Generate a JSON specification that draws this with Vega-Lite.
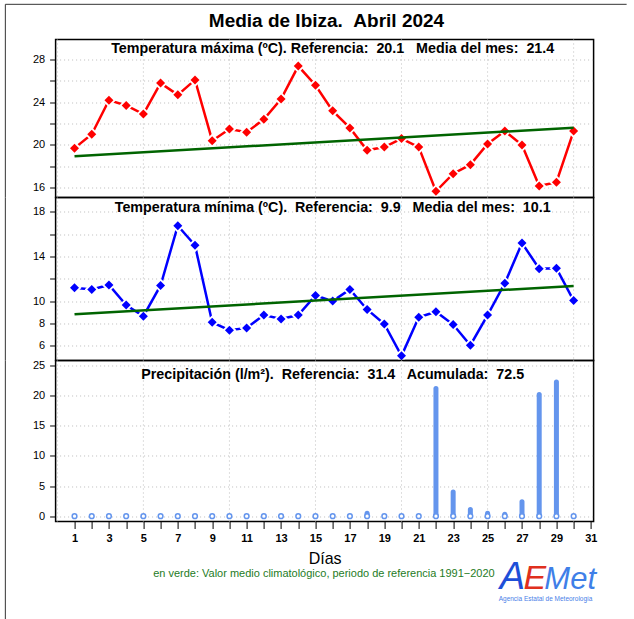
{
  "$schema": "https://vega.github.io/schema/vega-lite/v6.json",
  "background": "white",
  "padding": {"left": 3.6, "top": 2.5, "right": 5, "bottom": 0},
  "spacing": 0,
  "bounds": "flush",
  "datasets": {
    "dias": [
      {"dia": 1, "tmax": 19.7, "tmin": 11.2, "prec": 0},
      {"dia": 2, "tmax": 21.0, "tmin": 11.05, "prec": 0},
      {"dia": 3, "tmax": 24.2, "tmin": 11.45, "prec": 0},
      {"dia": 4, "tmax": 23.7, "tmin": 9.65, "prec": 0},
      {"dia": 5, "tmax": 22.9, "tmin": 8.65, "prec": 0},
      {"dia": 6, "tmax": 25.8, "tmin": 11.4, "prec": 0},
      {"dia": 7, "tmax": 24.7, "tmin": 16.75, "prec": 0},
      {"dia": 8, "tmax": 26.1, "tmin": 15.0, "prec": 0},
      {"dia": 9, "tmax": 20.4, "tmin": 8.1, "prec": 0},
      {"dia": 10, "tmax": 21.5, "tmin": 7.4, "prec": 0},
      {"dia": 11, "tmax": 21.2, "tmin": 7.6, "prec": 0},
      {"dia": 12, "tmax": 22.4, "tmin": 8.75, "prec": 0},
      {"dia": 13, "tmax": 24.3, "tmin": 8.4, "prec": 0},
      {"dia": 14, "tmax": 27.4, "tmin": 8.75, "prec": 0},
      {"dia": 15, "tmax": 25.6, "tmin": 10.5, "prec": 0},
      {"dia": 16, "tmax": 23.2, "tmin": 10.0, "prec": 0},
      {"dia": 17, "tmax": 21.6, "tmin": 11.05, "prec": 0},
      {"dia": 18, "tmax": 19.5, "tmin": 9.25, "prec": 0.5},
      {"dia": 19, "tmax": 19.8, "tmin": 7.95, "prec": 0},
      {"dia": 20, "tmax": 20.6, "tmin": 5.1, "prec": 0},
      {"dia": 21, "tmax": 19.8, "tmin": 8.55, "prec": 0},
      {"dia": 22, "tmax": 15.65, "tmin": 9.05, "prec": 21.2},
      {"dia": 23, "tmax": 17.3, "tmin": 7.9, "prec": 4.0},
      {"dia": 24, "tmax": 18.15, "tmin": 6.05, "prec": 1.1},
      {"dia": 25, "tmax": 20.1, "tmin": 8.75, "prec": 0.5},
      {"dia": 26, "tmax": 21.3, "tmin": 11.6, "prec": 0.3},
      {"dia": 27, "tmax": 20.0, "tmin": 15.2, "prec": 2.4},
      {"dia": 28, "tmax": 16.15, "tmin": 12.9, "prec": 20.2},
      {"dia": 29, "tmax": 16.5, "tmin": 12.95, "prec": 22.3},
      {"dia": 30, "tmax": 21.3, "tmin": 10.05, "prec": 0}
    ],
    "ref": [
      {"dia": 1, "refmax": 18.94, "refmin": 8.82},
      {"dia": 30, "refmax": 21.62, "refmin": 11.36}
    ],
    "grid": [{"g": 0}, {"g": 5}, {"g": 10}, {"g": 15}, {"g": 20}, {"g": 25}, {"g": 30}],
    "one": [{}]
  },
  "config": {
    "font": "Liberation Sans",
    "view": {"stroke": "black", "strokeWidth": 1.5},
    "axis": {"labelFont": "Liberation Sans", "labelColor": "black", "tickColor": "black", "domain": false, "gridColor": "#BEBEBE", "gridDash": [1, 3], "gridWidth": 1, "tickWidth": 1, "labelOverlap": false, "labelFlush": false},
    "axisY": {"labelFontSize": 11, "tickSize": 6, "labelPadding": 5, "grid": true},
    "axisX": {"labelFontSize": 11, "labelFontWeight": "bold", "tickSize": 7, "labelPadding": 4, "grid": false}
  },
  "vconcat": [
    {
      "width": 538, "height": 158,
      "encoding": {
        "x": {"type": "quantitative", "scale": {"domain": [-0.1, 31.16], "nice": false, "zero": false}, "axis": null},
        "y": {"type": "quantitative", "title": null, "scale": {"domain": [15.07, 29.89], "nice": false, "zero": false},
              "axis": {"values": [16, 18, 20, 22, 24, 26, 28], "labelExpr": "datum.value % 4 == 0 ? datum.label : ''", "labelOverlap": false}}
      },
      "layer": [
        {"data": {"name": "one"}, "mark": {"type": "rule", "color": "#333333", "strokeWidth": 1},
         "encoding": {"x": {"datum": -3.02}, "y": {"datum": 33.19}, "y2": {"datum": 15.07}}},
        {"data": {"name": "one"}, "mark": {"type": "rule", "color": "#333333", "strokeWidth": 1},
         "encoding": {"x": {"datum": -3.02}, "x2": {"datum": 33.08}, "y": {"datum": 33.19}}},
        {"data": {"name": "one"}, "mark": {"type": "text", "text": "Media de Ibiza. \u00a0Abril 2024", "fontSize": 19, "fontWeight": "bold", "font": "Liberation Sans", "align": "center", "baseline": "middle", "color": "black"},
         "encoding": {"x": {"datum": 15.64}, "y": {"datum": 31.6}}},
        {"data": {"name": "grid"}, "mark": {"type": "rule", "color": "#BEBEBE", "strokeDash": [1, 3], "strokeWidth": 1},
         "encoding": {"x": {"field": "g"}, "y": null}},
        {"data": {"name": "dias"}, "mark": {"type": "line", "color": "#FF0000", "strokeWidth": 2.5},
         "encoding": {"x": {"field": "dia"}, "y": {"field": "tmax"}}},
        {"data": {"name": "dias"}, "mark": {"type": "point", "shape": "diamond", "filled": true, "color": "white", "opacity": 1, "size": 200},
         "encoding": {"x": {"field": "dia"}, "y": {"field": "tmax"}}},
        {"data": {"name": "dias"}, "mark": {"type": "point", "shape": "diamond", "filled": true, "color": "#FF0000", "opacity": 1, "size": 81},
         "encoding": {"x": {"field": "dia"}, "y": {"field": "tmax"}}},
        {"data": {"name": "ref"}, "mark": {"type": "line", "color": "#006400", "strokeWidth": 2.5},
         "encoding": {"x": {"field": "dia"}, "y": {"field": "refmax"}}},
        {"data": {"name": "one"}, "mark": {"type": "text", "text": "Temperatura máxima (ºC). Referencia: \u00a020.1 \u00a0 Media del mes: \u00a021.4", "fontSize": 14.3, "fontWeight": "bold", "font": "Liberation Sans", "align": "center", "baseline": "middle", "color": "black"},
         "encoding": {"x": {"datum": 16}, "y": {"datum": 29.0}}}
      ]
    },
    {
      "width": 538, "height": 163,
      "encoding": {
        "x": {"type": "quantitative", "scale": {"domain": [-0.1, 31.16], "nice": false, "zero": false}, "axis": null},
        "y": {"type": "quantitative", "title": null, "scale": {"domain": [4.68, 19.28], "nice": false, "zero": false},
              "axis": {"values": [6, 8, 10, 12, 14, 16, 18], "labelExpr": "(datum.value == 12 || datum.value == 16) ? '' : datum.label", "labelOverlap": false}}
      },
      "layer": [
        {"data": {"name": "one"}, "mark": {"type": "rule", "color": "#333333", "strokeWidth": 1},
         "encoding": {"x": {"datum": -3.02}, "y": null}},
        {"data": {"name": "grid"}, "mark": {"type": "rule", "color": "#BEBEBE", "strokeDash": [1, 3], "strokeWidth": 1},
         "encoding": {"x": {"field": "g"}, "y": null}},
        {"data": {"name": "dias"}, "mark": {"type": "line", "color": "#0000FF", "strokeWidth": 2.5},
         "encoding": {"x": {"field": "dia"}, "y": {"field": "tmin"}}},
        {"data": {"name": "dias"}, "mark": {"type": "point", "shape": "diamond", "filled": true, "color": "white", "opacity": 1, "size": 200},
         "encoding": {"x": {"field": "dia"}, "y": {"field": "tmin"}}},
        {"data": {"name": "dias"}, "mark": {"type": "point", "shape": "diamond", "filled": true, "color": "#0000FF", "opacity": 1, "size": 81},
         "encoding": {"x": {"field": "dia"}, "y": {"field": "tmin"}}},
        {"data": {"name": "ref"}, "mark": {"type": "line", "color": "#006400", "strokeWidth": 2.5},
         "encoding": {"x": {"field": "dia"}, "y": {"field": "refmin"}}},
        {"data": {"name": "one"}, "mark": {"type": "text", "text": "Temperatura mínima (ºC). \u00a0Referencia: \u00a09.9 \u00a0 Media del mes: \u00a010.1", "fontSize": 14.3, "fontWeight": "bold", "font": "Liberation Sans", "align": "center", "baseline": "middle", "color": "black"},
         "encoding": {"x": {"datum": 16}, "y": {"datum": 18.31}}}
      ]
    },
    {
      "width": 538, "height": 161,
      "encoding": {
        "x": {"type": "quantitative", "title": "Días", "scale": {"domain": [-0.1, 31.16], "nice": false, "zero": false},
              "axis": {"values": [1,2,3,4,5,6,7,8,9,10,11,12,13,14,15,16,17,18,19,20,21,22,23,24,25,26,27,28,29,30,31], "labelExpr": "datum.value % 2 == 1 ? datum.label : ''", "labelOverlap": false, "labelFlush": false, "titleFontSize": 16, "titleFontWeight": "normal", "titleFont": "Liberation Sans", "titleColor": "black", "titlePadding": 7}},
        "y": {"type": "quantitative", "title": null, "scale": {"domain": [-0.89, 25.87], "nice": false, "zero": false},
              "axis": {"values": [0, 5, 10, 15, 20, 25], "labelOverlap": false}}
      },
      "layer": [
        {"data": {"name": "one"}, "mark": {"type": "rule", "color": "#333333", "strokeWidth": 1},
         "encoding": {"x": {"datum": -3.02}, "y": {"datum": 25.87}, "y2": {"datum": -17.4}}},
        {"data": {"name": "grid"}, "mark": {"type": "rule", "color": "#BEBEBE", "strokeDash": [1, 3], "strokeWidth": 1},
         "encoding": {"x": {"field": "g"}, "y": null}},
        {"data": {"name": "dias"}, "transform": [{"filter": "datum.prec > 0"}], "mark": {"type": "rule", "color": "#6495ED", "strokeWidth": 5, "strokeCap": "round"},
         "encoding": {"x": {"field": "dia"}, "y": {"field": "prec"}, "y2": {"datum": 0}}},
        {"data": {"name": "dias"}, "mark": {"type": "point", "shape": "circle", "filled": false, "fill": "white", "fillOpacity": 1, "stroke": "#6495ED", "strokeWidth": 1.5, "opacity": 1, "size": 22},
         "encoding": {"x": {"field": "dia"}, "y": {"datum": 0}}},
        {"data": {"name": "one"}, "mark": {"type": "text", "text": "Precipitación (l/m²). \u00a0Referencia: \u00a031.4 \u00a0 Acumulada: \u00a072.5", "fontSize": 14.3, "fontWeight": "bold", "font": "Liberation Sans", "align": "center", "baseline": "middle", "color": "black"},
         "encoding": {"x": {"datum": 16}, "y": {"datum": 23.53}}},
        {"data": {"name": "one"}, "mark": {"type": "text", "text": "en verde: Valor medio climatológico, periodo de referencia 1991−2020", "fontSize": 11, "font": "Liberation Sans", "align": "center", "baseline": "middle", "color": "#1E7B1E"},
         "encoding": {"x": {"datum": 15.49}, "y": {"datum": -9.58}}},
        {"data": {"name": "one"}, "mark": {"type": "text", "text": "A", "fontSize": 38, "font": "Liberation Sans", "fontStyle": "italic", "align": "center", "baseline": "alphabetic", "color": "#1E4FD8"},
         "encoding": {"x": {"datum": 26.45}, "y": {"datum": -12.09}}},
        {"data": {"name": "one"}, "mark": {"type": "text", "text": "E", "fontSize": 34, "font": "Liberation Sans", "fontStyle": "italic", "align": "center", "baseline": "alphabetic", "color": "#E0301E"},
         "encoding": {"x": {"datum": 27.75}, "y": {"datum": -12.09}}},
        {"data": {"name": "one"}, "mark": {"type": "text", "text": "Met", "fontSize": 31, "font": "Liberation Sans", "fontStyle": "italic", "align": "left", "baseline": "alphabetic", "color": "#3F7FE8"},
         "encoding": {"x": {"datum": 28.3}, "y": {"datum": -12.09}}},
        {"data": {"name": "one"}, "mark": {"type": "text", "text": "Agencia Estatal de Meteorología", "fontSize": 6.5, "font": "Liberation Sans", "align": "center", "baseline": "middle", "color": "#4A80E8"},
         "encoding": {"x": {"datum": 28.37}, "y": {"datum": -13.76}}}
      ]
    }
  ]
}
